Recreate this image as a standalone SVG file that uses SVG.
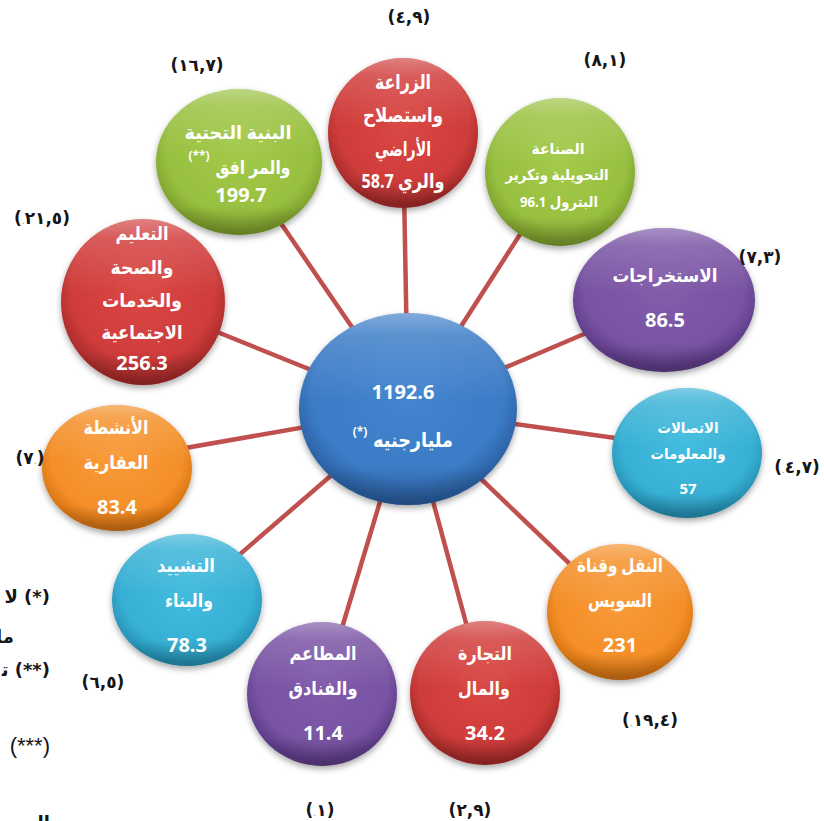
<svg xmlns="http://www.w3.org/2000/svg" width="824" height="821" viewBox="0 0 824 821">
<style>
.t{font-family:"Open Sans","DejaVu Sans",sans-serif;font-weight:bold;fill:#fff;text-anchor:middle}
.ar{direction:rtl}
.lb{font-family:"DejaVu Sans",sans-serif;font-weight:bold;font-size:17px;fill:#151515;text-anchor:middle}
.dot{font-size:9px;fill:#8a8a8a;font-weight:normal}
.fn{font-family:"DejaVu Sans","Liberation Sans",sans-serif;font-weight:bold;font-size:18px;fill:#151515;direction:rtl;text-anchor:start}
.con line{stroke:#c0504d;stroke-width:4.5}
.ov{fill:url(#ovl)}
.base{filter:url(#sh)}
.red{fill:url(#rRed)}.green{fill:url(#rGreen)}.purple{fill:url(#rPurple)}.blue{fill:url(#rBlue)}.cyan{fill:url(#rCyan)}.orange{fill:url(#rOrange)}
</style>
<defs>
<filter id="sh" x="-20%" y="-20%" width="140%" height="150%"><feDropShadow dx="0" dy="3" stdDeviation="3" flood-color="#000" flood-opacity="0.35"/></filter>
<linearGradient id="ovl" x1="0" y1="0" x2="0" y2="1">
<stop offset="0" stop-color="#fff" stop-opacity="0.35"/><stop offset="0.12" stop-color="#fff" stop-opacity="0.15"/><stop offset="0.45" stop-color="#fff" stop-opacity="0"/><stop offset="0.8" stop-color="#000" stop-opacity="0"/><stop offset="1" stop-color="#000" stop-opacity="0.22"/>
</linearGradient>
<radialGradient id="rRed" cx="0.5" cy="0.42" r="0.55"><stop offset="0" stop-color="#da4845"/><stop offset="0.8" stop-color="#cf3c3a"/><stop offset="1" stop-color="#a92c2b"/></radialGradient>
<radialGradient id="rGreen" cx="0.5" cy="0.42" r="0.55"><stop offset="0" stop-color="#a3ca4a"/><stop offset="0.8" stop-color="#98c03f"/><stop offset="1" stop-color="#7fa22f"/></radialGradient>
<radialGradient id="rPurple" cx="0.5" cy="0.42" r="0.55"><stop offset="0" stop-color="#825dab"/><stop offset="0.8" stop-color="#7853a3"/><stop offset="1" stop-color="#5e3c88"/></radialGradient>
<radialGradient id="rBlue" cx="0.5" cy="0.42" r="0.55"><stop offset="0" stop-color="#4585cf"/><stop offset="0.8" stop-color="#3b7bc6"/><stop offset="1" stop-color="#2c61a3"/></radialGradient>
<radialGradient id="rCyan" cx="0.5" cy="0.42" r="0.55"><stop offset="0" stop-color="#43bcde"/><stop offset="0.8" stop-color="#37b0d5"/><stop offset="1" stop-color="#2793b6"/></radialGradient>
<radialGradient id="rOrange" cx="0.5" cy="0.42" r="0.55"><stop offset="0" stop-color="#f89b38"/><stop offset="0.8" stop-color="#f48e29"/><stop offset="1" stop-color="#d87512"/></radialGradient>
</defs>

<g id="connectors" class="con">
<line x1="408" y1="409" x2="403" y2="133"/>
<line x1="408" y1="409" x2="560" y2="172"/>
<line x1="408" y1="409" x2="239" y2="162"/>
<line x1="408" y1="409" x2="143" y2="302"/>
<line x1="408" y1="409" x2="664" y2="300"/>
<line x1="408" y1="409" x2="687" y2="448"/>
<line x1="408" y1="409" x2="117" y2="460"/>
<line x1="408" y1="409" x2="620" y2="612"/>
<line x1="408" y1="409" x2="187" y2="600"/>
<line x1="408" y1="409" x2="322" y2="694"/>
<line x1="408" y1="409" x2="485" y2="693"/>
</g>

<g id="center">
<ellipse class="base blue" cx="408" cy="409" rx="109" ry="96"/>
<ellipse class="ov" cx="408" cy="409" rx="109" ry="96"/>
<text class="t" x="403" y="399" font-size="20">1192.6</text>
<text class="t ar" x="413" y="447" font-size="20" textLength="80" lengthAdjust="spacingAndGlyphs">مليارجنيه</text>
<text class="t" x="360" y="436" font-size="12">(*)</text>
</g>

<g id="agriculture">
<ellipse class="base red" cx="403" cy="133" rx="75" ry="75"/>
<ellipse class="ov" cx="403" cy="133" rx="75" ry="75"/>
<text class="t ar" x="403" y="89" font-size="20" textLength="56" lengthAdjust="spacingAndGlyphs">الزراعة</text>
<text class="t ar" x="403" y="122" font-size="20" textLength="80" lengthAdjust="spacingAndGlyphs">واستصلاح</text>
<text class="t ar" x="403" y="156" font-size="20" textLength="56" lengthAdjust="spacingAndGlyphs">الأراضي</text>
<text class="t ar" x="403" y="188" font-size="20" textLength="83" lengthAdjust="spacingAndGlyphs">والري 58.7</text>
</g>

<g id="industry">
<ellipse class="base green" cx="560" cy="172" rx="75" ry="74"/>
<ellipse class="ov" cx="560" cy="172" rx="75" ry="74"/>
<text class="t ar" x="558" y="154" font-size="15" textLength="53" lengthAdjust="spacingAndGlyphs">الصناعة</text>
<text class="t ar" x="557" y="180" font-size="15" textLength="103" lengthAdjust="spacingAndGlyphs">التحويلية وتكرير</text>
<text class="t ar" x="559" y="207" font-size="15" textLength="78" lengthAdjust="spacingAndGlyphs">البترول 96.1</text>
</g>

<g id="infrastructure">
<ellipse class="base green" cx="239" cy="162" rx="83" ry="73"/>
<ellipse class="ov" cx="239" cy="162" rx="83" ry="73"/>
<text class="t ar" x="238" y="139" font-size="19" textLength="107" lengthAdjust="spacingAndGlyphs">البنية التحتية</text>
<text class="t ar" x="253" y="174" font-size="19" textLength="75" lengthAdjust="spacingAndGlyphs">والمر افق</text>
<text class="t" x="199" y="160" font-size="12">(**)</text>
<text class="t" x="241" y="202" font-size="20">199.7</text>
</g>

<g id="education">
<ellipse class="base red" cx="143" cy="302" rx="82" ry="83"/>
<ellipse class="ov" cx="143" cy="302" rx="82" ry="83"/>
<text class="t ar" x="142" y="240" font-size="19" textLength="53" lengthAdjust="spacingAndGlyphs">التعليم</text>
<text class="t ar" x="142" y="274" font-size="19" textLength="63" lengthAdjust="spacingAndGlyphs">والصحة</text>
<text class="t ar" x="142" y="307" font-size="19" textLength="80" lengthAdjust="spacingAndGlyphs">والخدمات</text>
<text class="t ar" x="142" y="339" font-size="19" textLength="81" lengthAdjust="spacingAndGlyphs">الاجتماعية</text>
<text class="t" x="142" y="370" font-size="20">256.3</text>
</g>

<g id="extractions">
<ellipse class="base purple" cx="664" cy="300" rx="91" ry="72"/>
<ellipse class="ov" cx="664" cy="300" rx="91" ry="72"/>
<text class="t ar" x="665" y="282" font-size="19" textLength="105" lengthAdjust="spacingAndGlyphs">الاستخراجات</text>
<text class="t" x="665" y="327" font-size="20">86.5</text>
</g>

<g id="ict">
<ellipse class="base cyan" cx="687" cy="453" rx="75" ry="65"/>
<ellipse class="ov" cx="687" cy="453" rx="75" ry="65"/>
<text class="t ar" x="688" y="433" font-size="15" textLength="61" lengthAdjust="spacingAndGlyphs">الاتصالات</text>
<text class="t ar" x="688" y="459" font-size="15" textLength="75" lengthAdjust="spacingAndGlyphs">والمعلومات</text>
<text class="t" x="688" y="494" font-size="15">57</text>
</g>

<g id="realestate">
<ellipse class="base orange" cx="117" cy="468" rx="75" ry="63"/>
<ellipse class="ov" cx="117" cy="468" rx="75" ry="63"/>
<text class="t ar" x="116" y="434" font-size="19" textLength="65" lengthAdjust="spacingAndGlyphs">الأنشطة</text>
<text class="t ar" x="116" y="469" font-size="19" textLength="65" lengthAdjust="spacingAndGlyphs">العقارية</text>
<text class="t" x="117" y="514" font-size="20">83.4</text>
</g>

<g id="transport">
<ellipse class="base orange" cx="620" cy="612" rx="73" ry="68"/>
<ellipse class="ov" cx="620" cy="612" rx="73" ry="68"/>
<text class="t ar" x="620" y="572" font-size="19" textLength="86" lengthAdjust="spacingAndGlyphs">النقل وقناة</text>
<text class="t ar" x="620" y="607" font-size="19" textLength="64" lengthAdjust="spacingAndGlyphs">السويس</text>
<text class="t" x="620" y="652" font-size="20">231</text>
</g>

<g id="construction">
<ellipse class="base cyan" cx="187" cy="600" rx="75" ry="66"/>
<ellipse class="ov" cx="187" cy="600" rx="75" ry="66"/>
<text class="t ar" x="186" y="572" font-size="19" textLength="58" lengthAdjust="spacingAndGlyphs">التشييد</text>
<text class="t ar" x="189" y="607" font-size="19" textLength="48" lengthAdjust="spacingAndGlyphs">والبناء</text>
<text class="t" x="187" y="652" font-size="20">78.3</text>
</g>

<g id="restaurants">
<ellipse class="base purple" cx="322" cy="694" rx="75" ry="72"/>
<ellipse class="ov" cx="322" cy="694" rx="75" ry="72"/>
<text class="t ar" x="323" y="660" font-size="19" textLength="67" lengthAdjust="spacingAndGlyphs">المطاعم</text>
<text class="t ar" x="323" y="695" font-size="19" textLength="69" lengthAdjust="spacingAndGlyphs">والفنادق</text>
<text class="t" x="323" y="740" font-size="20">11.4</text>
</g>

<g id="trade">
<ellipse class="base red" cx="485" cy="693" rx="75" ry="72"/>
<ellipse class="ov" cx="485" cy="693" rx="75" ry="72"/>
<text class="t ar" x="485" y="660" font-size="19" textLength="54" lengthAdjust="spacingAndGlyphs">التجارة</text>
<text class="t ar" x="484" y="695" font-size="19" textLength="52" lengthAdjust="spacingAndGlyphs">والمال</text>
<text class="t" x="485" y="740" font-size="20">34.2</text>
</g>

<g id="labels">
<text class="lb" x="409" y="23">(٤,٩)</text>
<text class="lb" x="605" y="66">(٨,١)</text>
<text class="lb" x="197" y="71">(١٦,٧)</text>
<text class="lb" x="42" y="224">(<tspan class="dot">.</tspan>٢١,٥)</text>
<text class="lb" x="760" y="263">(٧,٣)</text>
<text class="lb" x="797" y="473">(<tspan class="dot">.</tspan>٤,٧)</text>
<text class="lb" x="30" y="464">(٧<tspan class="dot">.</tspan>)</text>
<text class="lb" x="650" y="726">(<tspan class="dot">.</tspan>١٩,٤)</text>
<text class="lb" x="103" y="688">(٦,٥)</text>
<text class="lb" x="320" y="816">(<tspan class="dot">.</tspan>١)</text>
<text class="lb" x="470" y="816">(٢,٩)</text>
</g>

<g id="footnotes">
<text class="fn" x="50" y="603">(*) لا</text>
<text class="fn" x="14" y="643">ما</text>
<text class="fn" x="50" y="676">(**) ت&#x200D;</text>
<text class="fn" x="50" y="753" style="font-weight:normal;font-family:'Liberation Sans',sans-serif;font-size:22px">(***)</text>
<text class="fn" x="50" y="829" font-size="20">المص&#x200D;</text>
</g>
</svg>
